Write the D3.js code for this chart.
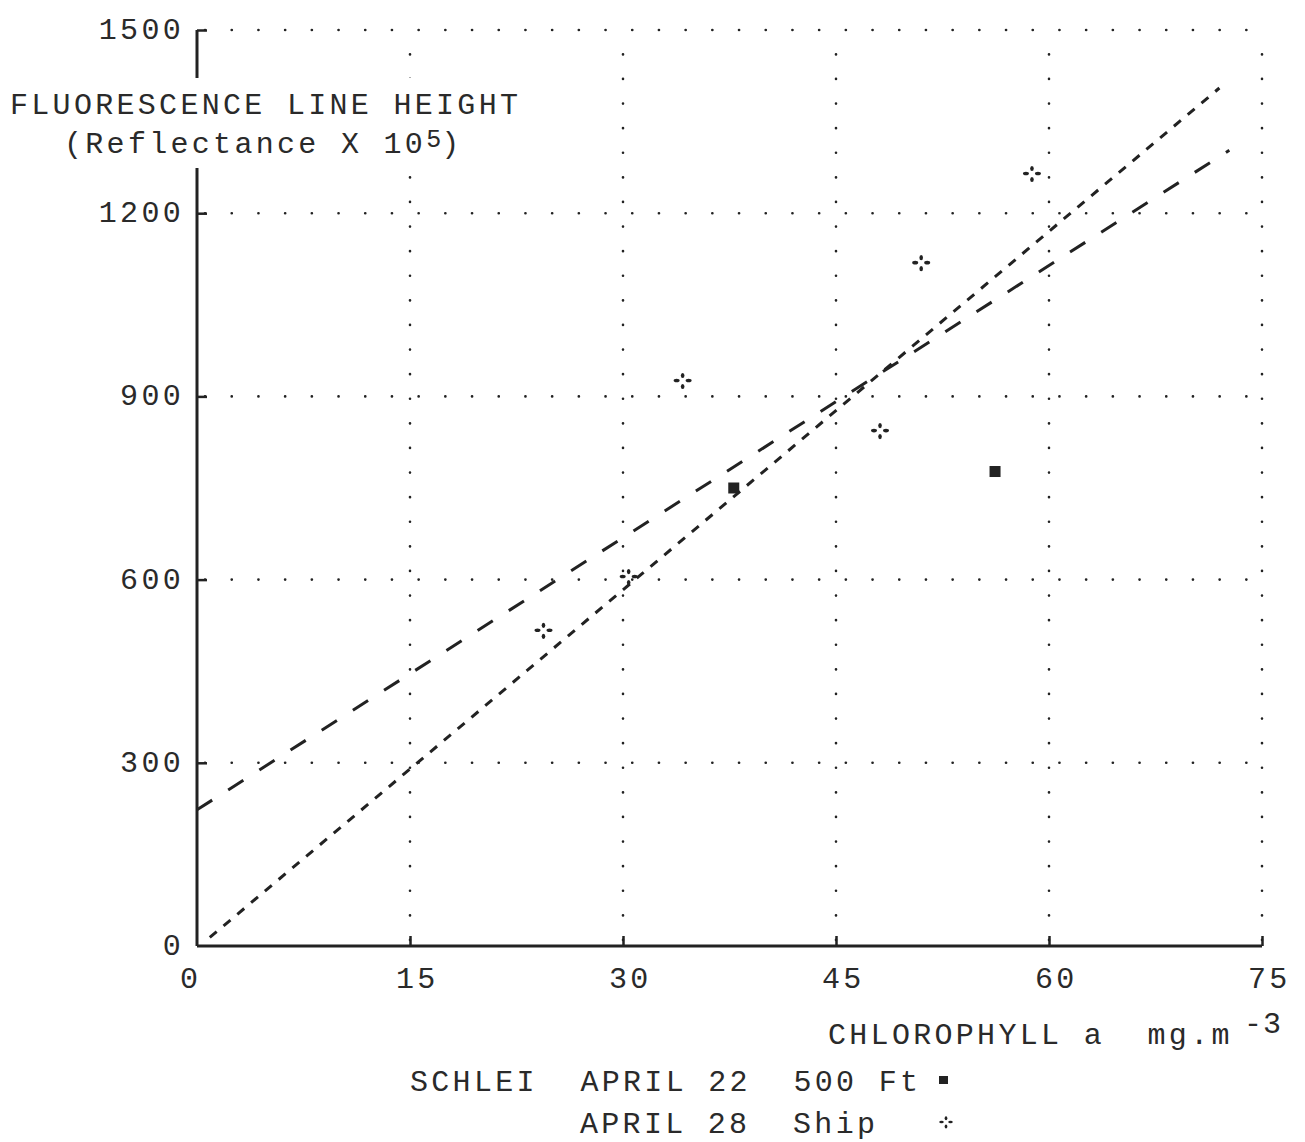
<!DOCTYPE html>
<html>
<head>
<meta charset="utf-8">
<script src="https://cdn.jsdelivr.net/npm/d3@7"></script>
<style>
  body { margin: 0; background: #fff; }
  text { font-family: "Liberation Mono", "DejaVu Sans Mono", monospace; font-size: 30px; letter-spacing: 3.3px; fill: #2a2a2a; white-space: pre; }
</style>
</head>
<body>
<script>
// Chart data
var xTicks = [0, 15, 30, 45, 60, 75];
var yTicks = [0, 300, 600, 900, 1200, 1500];

// April 22, 500 ft flight (filled squares)
var flightX = [37.8, 56.2];
var flightY = [750, 777];

// April 28, ship samples (four-dot crosses)
var shipX = [24.4, 30.4, 34.2, 48.1, 51.0, 58.8];
var shipY = [517, 605, 926, 844, 1119, 1265];

// regression lines (end points)
var fitShortX = [0.9, 72.0];
var fitShortY = [14, 1405];
var fitLongX = [0, 72.7];
var fitLongY = [223, 1303];

var svgWidth = 1305;
var svgHeight = 1142;

var chartMargin = { top: 30, right: 43, bottom: 196, left: 197 };
var chartWidth = svgWidth - chartMargin.left - chartMargin.right;
var chartHeight = svgHeight - chartMargin.top - chartMargin.bottom;

var svg = d3.select("body")
  .append("svg")
  .attr("width", svgWidth)
  .attr("height", svgHeight)
  .style("background", "#fff");

var chartGroup = svg.append("g")
  .attr("transform", `translate(${chartMargin.left}, ${chartMargin.top})`);

var xScale = d3.scaleLinear().domain([0, 75]).range([0, chartWidth]);
var yScale = d3.scaleLinear().domain([0, 1500]).range([chartHeight, 0]);

// dotted grid
chartGroup.selectAll(".vgrid")
  .data(xTicks.slice(1))
  .enter()
  .append("line")
  .attr("x1", d => xScale(d)).attr("x2", d => xScale(d))
  .attr("y1", yScale(0) - 6).attr("y2", yScale(1500))
  .attr("stroke", "#222")
  .attr("stroke-width", 2.6)
  .attr("stroke-linecap", "round")
  .attr("stroke-dasharray", "0.1,24.5");

chartGroup.selectAll(".hgrid")
  .data(yTicks.slice(1))
  .enter()
  .append("line")
  .attr("x1", xScale(0) + 8).attr("x2", xScale(75))
  .attr("y1", d => yScale(d)).attr("y2", d => yScale(d))
  .attr("stroke", "#222")
  .attr("stroke-width", 2.6)
  .attr("stroke-linecap", "round")
  .attr("stroke-dasharray", "0.1,26.6");

// axes
var bottomAxis = d3.axisBottom(xScale).tickValues(xTicks).tickSize(-10).tickFormat("");
var leftAxis = d3.axisLeft(yScale).tickValues(yTicks).tickSize(-10).tickFormat("");

var xAxisG = chartGroup.append("g")
  .attr("transform", `translate(0, ${chartHeight})`)
  .call(bottomAxis);
var yAxisG = chartGroup.append("g").call(leftAxis);

[xAxisG, yAxisG].forEach(function(g) {
  g.select(".domain").attr("d", null);
  g.selectAll(".tick line").attr("stroke", "#222").attr("stroke-width", 2.5);
});
xAxisG.selectAll(".tick").filter(d => d == 0).remove();
yAxisG.selectAll(".tick").filter(d => d == 0).remove();

chartGroup.append("line")
  .attr("x1", 0).attr("x2", chartWidth)
  .attr("y1", chartHeight).attr("y2", chartHeight)
  .attr("stroke", "#222").attr("stroke-width", 3);
chartGroup.append("line")
  .attr("x1", 0).attr("x2", 0)
  .attr("y1", 0).attr("y2", chartHeight)
  .attr("stroke", "#222").attr("stroke-width", 3);

// tick labels
chartGroup.selectAll(".xlabel")
  .data(xTicks)
  .enter()
  .append("text")
  .attr("x", d => xScale(d) - (d == 0 ? 17 : 14))
  .attr("y", chartHeight + 42)
  .text(d => d);

chartGroup.selectAll(".ylabel")
  .data(yTicks)
  .enter()
  .append("text")
  .attr("x", -13)
  .attr("y", d => yScale(d) + 9)
  .attr("text-anchor", "end")
  .text(d => d);

// regression lines
var fitLine = d3.line().x(d => xScale(d[0])).y(d => yScale(d[1]));

chartGroup.append("path")
  .datum(d3.zip(fitShortX, fitShortY))
  .attr("d", fitLine)
  .attr("fill", "none")
  .attr("stroke", "#222")
  .attr("stroke-width", 3)
  .attr("stroke-dasharray", "9,9");

chartGroup.append("path")
  .datum(d3.zip(fitLongX, fitLongY))
  .attr("d", fitLine)
  .attr("fill", "none")
  .attr("stroke", "#222")
  .attr("stroke-width", 3)
  .attr("stroke-dasharray", "18,19");

// markers
chartGroup.selectAll(".flight")
  .data(d3.zip(flightX, flightY))
  .enter()
  .append("rect")
  .attr("x", d => xScale(d[0]) - 5.5)
  .attr("y", d => yScale(d[1]) - 5.5)
  .attr("width", 11)
  .attr("height", 11)
  .attr("fill", "#222");

function shipMark(g) {
  g.append("ellipse").attr("cx", -6).attr("cy", 0).attr("rx", 3).attr("ry", 1.8);
  g.append("ellipse").attr("cx", 6).attr("cy", 0).attr("rx", 3).attr("ry", 1.8);
  g.append("ellipse").attr("cx", 0).attr("cy", -5).attr("rx", 1.8).attr("ry", 2.6);
  g.append("ellipse").attr("cx", 0).attr("cy", 6).attr("rx", 1.8).attr("ry", 2.6);
  g.attr("fill", "#222");
}

chartGroup.selectAll(".ship")
  .data(d3.zip(shipX, shipY))
  .enter()
  .append("g")
  .attr("transform", d => `translate(${xScale(d[0])}, ${yScale(d[1])})`)
  .each(function() { shipMark(d3.select(this)); });

// y axis title, on white to break the axis line
svg.append("rect")
  .attr("x", 5).attr("y", 78)
  .attr("width", 525).attr("height", 90)
  .attr("fill", "#fff");

svg.append("text")
  .attr("x", 10).attr("y", 114)
  .text("FLUORESCENCE LINE HEIGHT");

var t2 = svg.append("text").attr("x", 64).attr("y", 153);
t2.append("tspan").text("(Reflectance X 10");
t2.append("tspan").attr("dy", -6).style("font-size", "25px").style("letter-spacing", "0px").text("5");
t2.append("tspan").attr("dy", 6).text(")");

// x axis title
svg.append("text").attr("x", 828).attr("y", 1044).text("CHLOROPHYLL a  mg.m");
svg.append("text").attr("x", 1244).attr("y", 1033).style("letter-spacing", "1px").text("-3");

// legend
svg.append("text").attr("x", 410).attr("y", 1091).text("SCHLEI  APRIL 22  500 Ft");
svg.append("text").attr("x", 580).attr("y", 1133).text("APRIL 28  Ship");

svg.append("rect")
  .attr("x", 939).attr("y", 1076)
  .attr("width", 9).attr("height", 8)
  .attr("fill", "#222");

var legendShip = svg.append("g").attr("transform", "translate(946, 1122) scale(0.75)");
shipMark(legendShip);
</script>
</body>
</html>
